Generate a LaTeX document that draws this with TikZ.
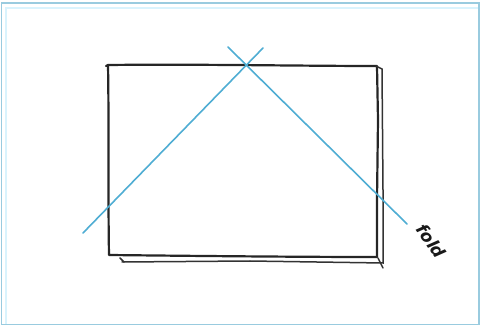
\documentclass[tikz,border=0pt]{standalone}
\usepackage{fontspec}
\setmainfont{DejaVu Sans}
\begin{document}
\begin{tikzpicture}[x=1pt,y=-1pt,
  frameline/.style={draw=cyan!45!teal!45!white, line width=1.2pt},
  frameinner/.style={draw=cyan!15!white, line width=2pt},
  sketch/.style={draw=black!85, line width=2.2pt, line cap=round, line join=round},
  sketchthin/.style={draw=black!80, line width=1.5pt, line cap=round},
  foldline/.style={draw=cyan!60!teal!80, line width=1.6pt, line cap=round},
  label/.style={font=\fontsize{17}{17}\selectfont\bfseries\itshape, text=black!90}]
\useasboundingbox (0,0) rectangle (480,326);
% frame
\draw[frameinner] (6,324) -- (6,8) -- (479,8);
\draw[frameline] (1.5,3) rectangle (479,324.5);
% sketch rectangle
\coordinate (tl) at (108,65);
\coordinate (tr) at (377,66);
\coordinate (br) at (377,257);
\coordinate (bl) at (109,255);
\draw[sketch] (106,66) -- (tl) .. controls (200,64) and (300,66) .. (tr) -- (378,120) -- (377,200) -- (br);
\draw[sketch] (tl) .. controls (109,120) and (108,200) .. (bl) .. controls (200,256) and (300,257) .. (br);
\draw[sketchthin] (122,262) -- (250,261) -- (383,263) -- (383,190) -- (382,69) -- (376,66);
\draw[sketchthin] (120,258) -- (124,262);
\draw[sketchthin] (378,258) -- (383,268);
% fold lines
\coordinate (a1) at (83,233);
\coordinate (a2) at (263,48);
\coordinate (b1) at (228,47);
\coordinate (b2) at (407,224);
\draw[foldline] (a1) -- (a2);
\draw[foldline] (b1) -- (b2);
\node[label, rotate=-55] (fold) at (431,241) {fold};
\end{tikzpicture}
\end{document}
